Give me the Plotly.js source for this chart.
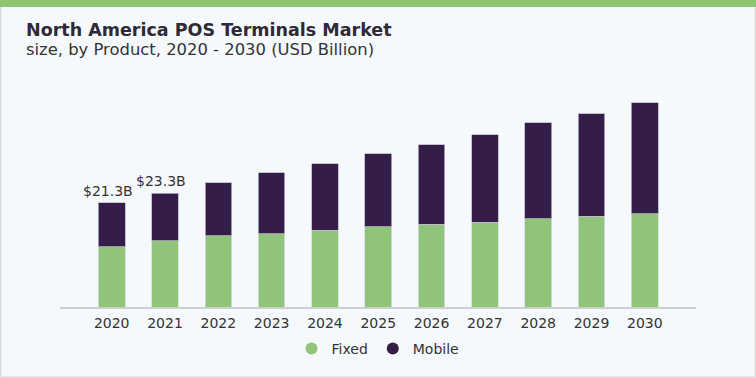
<!DOCTYPE html>
<html>
<head>
<meta charset="utf-8">
<script src="https://cdn.plot.ly/plotly-3.0.1.min.js"></script>
<style>
  html, body { margin: 0; padding: 0; background: #f5f9fc; }
  #chart { width: 756px; height: 378px; }
</style>
</head>
<body>
<div id="chart"></div>
<script>
// ---- Data (USD Billion) ----
const years = ['2020','2021','2022','2023','2024','2025','2026','2027','2028','2029','2030'];
const fixedValues  = [12.3, 13.6, 14.6, 15.0, 15.7, 16.4, 16.9, 17.4, 18.1, 18.6, 19.1];
const mobileValues = [9.0, 9.7, 10.8, 12.5, 13.6, 15.0, 16.3, 17.9, 19.6, 21.0, 22.7];
const labelYears = ['2020', '2021'];
const labelTexts = ['$21.3B', '$23.3B'];
const seriesNames = ['Fixed', 'Mobile'];

const colFixed = '#90c47a';
const colMobile = '#341d47';
const fontFam = '"DejaVu Sans", "Liberation Sans", Arial, sans-serif';

// layout geometry
const W = 756, H = 378;
const mL = 60, mR = 60, mT = 90, mB = 71;
const pw = W - mL - mR, ph = H - mT - mB;
const px = x => (x - mL) / pw;
const py = y => (H - mB - y) / ph;

const totals = fixedValues.map((v, i) => v + mobileValues[i]);

const traces = [
  {
    type: 'bar', x: years, y: fixedValues, name: seriesNames[0], showlegend: false,
    marker: { color: colFixed, line: { color: '#d6dde0', width: 0.8 } },
    width: 0.5, hoverinfo: 'x+y'
  },
  {
    type: 'bar', x: years, y: mobileValues, name: seriesNames[1], showlegend: false,
    marker: { color: colMobile, line: { color: '#b9b4c4', width: 0.8 } },
    width: 0.5, hoverinfo: 'x+y'
  },
  {
    type: 'scatter', mode: 'markers', x: [years[0]], y: [null], name: seriesNames[0],
    marker: { color: colFixed, size: 12, symbol: 'circle' }, showlegend: true
  },
  {
    type: 'scatter', mode: 'markers', x: [years[0]], y: [null], name: seriesNames[1],
    marker: { color: colMobile, size: 12, symbol: 'circle' }, showlegend: true
  }
];

const annotations = [
  {
    xref: 'paper', yref: 'paper', x: px(24), y: py(30), xanchor: 'left', yanchor: 'middle',
    text: '<b>North America POS Terminals Market</b>', showarrow: false,
    font: { family: fontFam, size: 17.5, color: '#2e2a36' }
  },
  {
    xref: 'paper', yref: 'paper', x: px(24), y: py(50), xanchor: 'left', yanchor: 'middle',
    text: 'size, by Product, 2020 - 2030 (USD Billion)', showarrow: false,
    font: { family: fontFam, size: 16.4, color: '#333333' }
  }
];
labelYears.forEach((yr, k) => {
  const i = years.indexOf(yr);
  annotations.push({
    xref: 'x', yref: 'y', x: i, y: totals[i], xanchor: 'center', yanchor: 'bottom',
    text: labelTexts[k], showarrow: false, xshift: -4, yshift: 2,
    font: { family: fontFam, size: 14, color: '#333333' }
  });
});

const shapes = [
  { type: 'rect', xref: 'paper', yref: 'paper', x0: px(0), x1: px(W), y0: py(7), y1: py(0),
    fillcolor: '#8dc572', line: { width: 0 }, layer: 'below' },
  { type: 'line', xref: 'paper', yref: 'paper', x0: px(0.75), x1: px(0.75), y0: py(7), y1: py(377.25),
    line: { color: '#dadada', width: 1.5 } },
  { type: 'line', xref: 'paper', yref: 'paper', x0: px(755.25), x1: px(755.25), y0: py(7), y1: py(377.25),
    line: { color: '#dadada', width: 1.5 } },
  { type: 'line', xref: 'paper', yref: 'paper', x0: px(0), x1: px(W), y0: py(377.25), y1: py(377.25),
    line: { color: '#dadada', width: 1.5 } }
];

const layout = {
  width: W, height: H,
  margin: { l: mL, r: mR, t: mT, b: mB, pad: 0 },
  paper_bgcolor: '#f5f9fc', plot_bgcolor: '#f5f9fc',
  barmode: 'stack',
  font: { family: fontFam, color: '#333333' },
  xaxis: {
    type: 'category', range: [-0.97, 10.96],
    showline: true, linecolor: '#cfcfcf', linewidth: 1.5,
    showgrid: false, zeroline: false, ticks: '', ticklabelstandoff: 3,
    tickfont: { family: fontFam, size: 14, color: '#333333' },
    fixedrange: true
  },
  yaxis: {
    range: [0, ph / 4.883], showgrid: false, zeroline: false, showline: false,
    showticklabels: false, ticks: '', fixedrange: true
  },
  legend: {
    orientation: 'h', x: 0.5, xanchor: 'center', y: py(349), yanchor: 'middle',
    traceorder: 'normal',
    font: { family: fontFam, size: 14, color: '#333333' }, bgcolor: 'rgba(0,0,0,0)'
  },
  showlegend: true,
  annotations: annotations,
  shapes: shapes
};

Plotly.newPlot('chart', traces, layout, { displayModeBar: false, staticPlot: true });
</script>
</body>
</html>
